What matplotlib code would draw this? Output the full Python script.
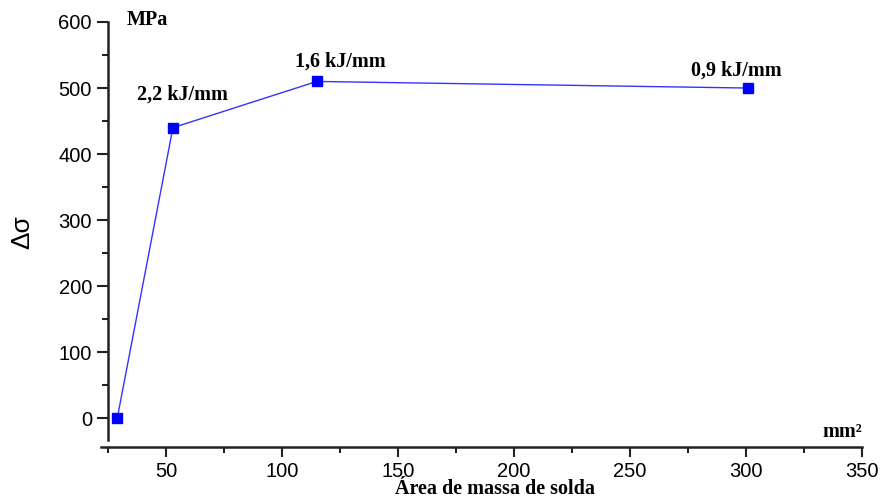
import numpy as np
import matplotlib
matplotlib.use('Agg')
import matplotlib.pyplot as plt
from matplotlib.ticker import MultipleLocator

# Données : aire de métal d'apport vs. Δσ
area = [29, 53, 115, 301]
delta_sigma = [0, 440, 510, 500]
energie = ['', '2,2 kJ/mm', '1,6 kJ/mm', '0,9 kJ/mm']
label_pos = [None, (57, 490), (125, 540), (296, 526)]

fig = plt.figure(figsize=(8.82, 5.01), dpi=100)
ax = fig.add_axes([0.1145, 0.1078, 0.8628, 0.8483])

ax.plot(area, delta_sigma, color='#3333ff', linewidth=1.0,
        marker='s', markersize=7.5, markerfacecolor='#0000ff',
        markeredgecolor='#0000ff')

serif_bold = dict(family='Liberation Serif', fontweight='bold', fontsize=14.5)
for txt, pos in zip(energie, label_pos):
    if pos is None:
        continue
    ax.text(pos[0], pos[1], txt, ha='center', va='center', **serif_bold)

ax.text(42, 603, 'MPa', ha='center', va='center', clip_on=False, **serif_bold)
ax.text(341.5, -21, 'mm²', ha='center', va='center', clip_on=False, **serif_bold)

ax.set_xlim(22, 350)
ax.set_ylim(-43.4, 600)

# axes décalés, style Origin
ax.spines['top'].set_visible(False)
ax.spines['right'].set_visible(False)
ax.spines['left'].set_position(('data', 25))
ax.spines['left'].set_bounds(-33, 600)
for s in ['left', 'bottom']:
    ax.spines[s].set_linewidth(1.8)
    ax.spines[s].set_color('#222222')

ax.xaxis.set_major_locator(MultipleLocator(50))
ax.xaxis.set_minor_locator(MultipleLocator(25))
ax.yaxis.set_major_locator(MultipleLocator(100))
ax.yaxis.set_minor_locator(MultipleLocator(50))
ax.tick_params(which='major', length=7, width=1.5, color='#222222',
               labelsize=14.5, labelfontfamily='Liberation Sans')
ax.tick_params(which='minor', length=4, width=1.5, color='#222222')
ax.tick_params(axis='y', which='major', length=8)

fig.text(22 / 882, 1 - 232 / 501, 'Δσ', rotation=90, ha='center', va='center',
         fontsize=19, family='Liberation Sans')
fig.text(495 / 882, 1 - 489 / 501, 'Área de massa de solda',
         ha='center', va='center', **serif_bold)

fig.savefig('out.png', dpi=100, facecolor='white')
